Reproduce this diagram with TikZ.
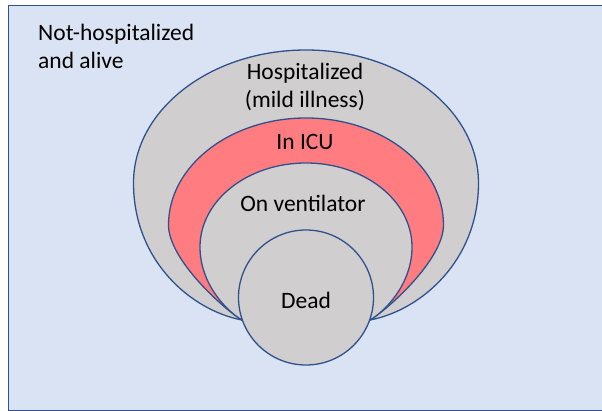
\documentclass[tikz,border=0pt]{standalone}
\usepackage{fontspec}
\setmainfont{Carlito}
\definecolor{bgblue}{HTML}{DAE3F3}
\definecolor{edgeblue}{HTML}{2F528F}
\definecolor{wardgrey}{HTML}{D0CECE}
\definecolor{icured}{HTML}{FF7C80}

\begin{document}
\begin{tikzpicture}[x=1pt,y=1pt,
		every node/.style={font=\fontsize{23.5}{28}\selectfont,inner sep=0pt,align=center},
		zone/.style={draw=edgeblue,line width=1.3pt,fill=wardgrey},
		icuzone/.style={zone,fill=icured}]
			\useasboundingbox (0,0) rectangle (602,410);
			\draw[draw=edgeblue,fill=bgblue,line width=1.3pt] (8.5,-1) rectangle (620,404.5);

			\draw[zone] (133.5,227) arc[start angle=180,end angle=0,x radius=172.5,y radius=133]
				.. controls (478.5,150) and (422,100) .. (370,90) -- (242,90)
				.. controls (190,100) and (133.5,150) .. cycle;
			\draw[icuzone] (168.5,185) arc[start angle=180,end angle=0,x radius=137.5,y radius=107]
				.. controls (443.5,150) and (387,100) .. (370,90) -- (242,90)
				.. controls (225,100) and (168.5,150) .. cycle;
			\draw[zone] (200,163) arc[start angle=180,end angle=0,x radius=106,y radius=84]
				.. controls (412,125) and (384,98) .. (370,90) -- (242,90)
				.. controls (228,98) and (200,125) .. cycle;
			\node[zone,circle,minimum size=135pt] (dead) at (306,112.5) {};

			\node[anchor=north west,align=left] (alive) at (38,386.5) {Not-hospitalized\\and alive};
			\node (hosp) at (305,323) {Hospitalized\\(mild illness)};
			\node (icu) at (305,268.5) {In ICU};
			\node (vent) at (303,207) {On ventilator};
			\node (deadlabel) at (306,109.5) {Dead};
		\end{tikzpicture}
\end{document}
